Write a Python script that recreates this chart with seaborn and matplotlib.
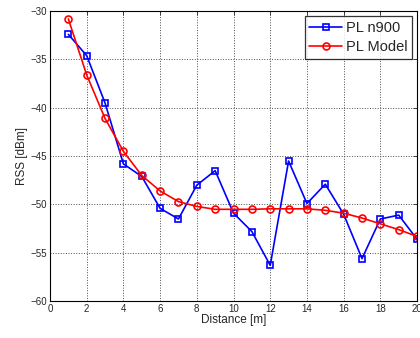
import numpy as np
import pandas as pd
import matplotlib
matplotlib.use("Agg")
import matplotlib.pyplot as plt
import seaborn as sns

# Distance points and measured / modelled RSS
distance = list(range(1, 21))
rss_n900 = [-32.4, -34.6, -39.5, -45.8, -47.1, -50.4, -51.5, -48.0, -46.5, -50.9,
            -52.8, -56.3, -45.5, -49.9, -47.9, -51.0, -55.6, -51.5, -51.1, -53.6]
rss_model = [-30.8, -36.6, -41.1, -44.5, -47.0, -48.6, -49.7, -50.2, -50.5, -50.5,
             -50.5, -50.45, -50.45, -50.45, -50.6, -50.9, -51.4, -52.0, -52.6, -53.3]

df = pd.DataFrame({'Distance': distance, 'PL n900': rss_n900, 'PL Model': rss_model})

sns.set_style("white")
plt.rcParams['font.family'] = ['Liberation Sans', 'DejaVu Sans']

fig = plt.figure(figsize=(4.2, 3.38), dpi=100)
ax = fig.add_axes([0.119, 0.109, 0.874, 0.858])

sns.lineplot(data=df, x='Distance', y='PL n900', ax=ax, color='#0000ff',
             marker='s', markersize=4.8, markerfacecolor='none', markeredgecolor='#0000ff',
             markeredgewidth=1.2, linewidth=1.2, label='PL n900')
sns.lineplot(data=df, x='Distance', y='PL Model', ax=ax, color='#ff0000',
             marker='o', markersize=5, markerfacecolor='none', markeredgecolor='#ff0000',
             markeredgewidth=1.2, linewidth=1.2, label='PL Model')

ax.set_xlim(0, 20)
ax.set_ylim(-60, -30)
ax.set_xticks(np.arange(0, 21, 2))
ax.set_yticks(np.arange(-60, -29, 5))
ax.grid(True, color='0.3', linestyle=':', linewidth=0.7)
ax.tick_params(direction='in', length=3, top=True, right=True, labelsize=7, width=0.6,
               pad=2)
for s in ax.spines.values():
    s.set_color('black')
    s.set_linewidth(0.8)

ax.set_xlabel('Distance [m]', fontsize=8.5, labelpad=0)
ax.set_ylabel('RSS [dBm]', fontsize=8.5, labelpad=2)

leg = ax.legend(loc='upper right', fontsize=10.5, frameon=True, fancybox=False,
                borderpad=0.3, handlelength=2.2, labelspacing=0.4, handletextpad=0.3,
                borderaxespad=0.35)
leg.get_frame().set_edgecolor('black')
leg.get_frame().set_linewidth(0.9)

fig.savefig('out.png', dpi=100)
